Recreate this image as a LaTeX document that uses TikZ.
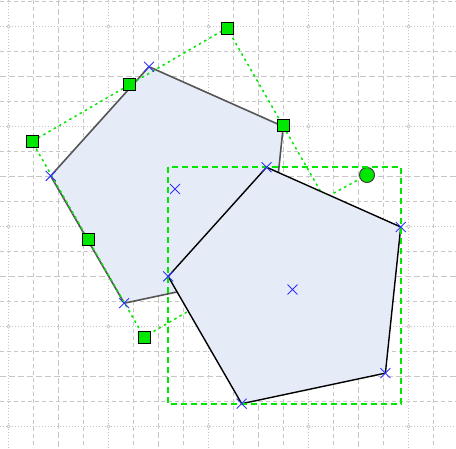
\documentclass[tikz,border=0pt]{standalone}
\usetikzlibrary{calc,shapes.misc}
\definecolor{gridc}{RGB}{198,198,198}
\definecolor{pfill}{RGB}{230,236,247}
\definecolor{hgreen}{RGB}{0,232,0}
\definecolor{xblue}{RGB}{50,50,255}
\definecolor{pedgeone}{RGB}{85,85,85}
\begin{document}
\begin{tikzpicture}[x=1pt,y=-1pt]
\tikzset{
  gdot/.style={gridc, line width=1pt, dash pattern=on 1pt off 2pt},
  gshort/.style={gridc, line width=1pt, dash pattern=on 4pt off 3pt},
  glong/.style={gridc, line width=1.2pt, dash pattern=on 6pt off 3pt},
  pentone/.style={fill=pfill, draw=pedgeone, line width=1.6pt},
  penttwo/.style={fill=pfill, draw=black, line width=1.4pt},
  selrot/.style={hgreen, line width=1.5pt, dash pattern=on 2.5pt off 3.5pt},
  selbox/.style={hgreen, line width=2pt, dash pattern=on 6pt off 4pt},
  sqhandle/.style={draw=black, fill=hgreen, line width=1pt, rectangle, minimum size=12pt, inner sep=0pt},
  rothandle/.style={draw=black!75, fill=hgreen, line width=1pt, circle, minimum size=15pt, inner sep=0pt},
  xmk/.style={cross out, draw=xblue, line width=0.9pt, minimum size=9pt, inner sep=0pt}
}
\fill[white] (0,0) rectangle (456,448);
\useasboundingbox (0,0) rectangle (456,448);
% grid
\foreach \x in {8.5,108.5,208.5,308.5,408.5} \draw[gdot] (\x,0) -- (\x,448);
\foreach \x in {58.5,158.5,258.5,358.5} \draw[glong] (\x,0) -- (\x,448);
\foreach \x in {33.5,83.5,133.5,183.5,233.5,283.5,333.5,383.5,433.5} \draw[gshort] (\x,0) -- (\x,448);
\foreach \y in {26.5,126.5,226.5,326.5,426.5} \draw[gdot] (0,\y) -- (456,\y);
\foreach \y in {76.5,176.5,276.5,376.5} \draw[glong] (0,\y) -- (456,\y);
\foreach \y in {1.5,51.5,101.5,151.5,201.5,251.5,301.5,351.5,401.5} \draw[gshort] (0,\y) -- (456,\y);
\foreach \x in {8.5,108.5,208.5,308.5,408.5} \foreach \y in {26.5,126.5,226.5,326.5,426.5}
  \draw[gridc, line width=0.7pt, fill=white] (\x,\y) circle (1.6pt);
% pentagon 1
\coordinate (c1) at (175,189);
\foreach \i in {1,...,5} \coordinate (a\i) at ($(c1)+({-102+72*(\i-1)}:125)$);
\path[pentone] (a1) -- (a2) -- (a3) -- (a4) -- (a5) -- cycle;
% rotated selection of pentagon 1
\coordinate (rA) at (227,28);
\coordinate (rB) at (32,141.5);
\coordinate (rC) at (144,337);
\coordinate (rD) at (339,223.5);
\coordinate (hb) at (323,199);
\node[rothandle] (rh) at (367,175) {};
\draw[selrot] (rA) -- (rB) -- (rC) -- (rD) -- cycle;
\draw[selrot] (hb) -- (rh);
\node[sqhandle] (sA) at (rA) {};
\node[sqhandle] (sB) at (rB) {};
\node[sqhandle] (sC) at (rC) {};
\node[sqhandle] (sAB) at ($(rA)!0.5!(rB)$) {};
\node[sqhandle] (sBC) at ($(rB)!0.5!(rC)$) {};
\node[sqhandle] (sAD) at ($(rA)!0.5!(rD)$) {};
% pentagon 2
\coordinate (c2) at (292.5,289.5);
\foreach \i in {1,...,5} \coordinate (b\i) at ($(c2)+({-102+72*(\i-1)}:125)$);
\path[penttwo] (b1) -- (b2) -- (b3) -- (b4) -- (b5) -- cycle;
\coordinate (bx1) at (168,167);
\coordinate (bx2) at (401,404);
\draw[selbox] (bx1) rectangle (bx2);
% vertex and centre marks
\foreach \p in {a1,a4,a5,c1,b1,b2,b3,b4,b5,c2} \node[xmk] (m\p) at (\p) {};
\end{tikzpicture}
\end{document}
